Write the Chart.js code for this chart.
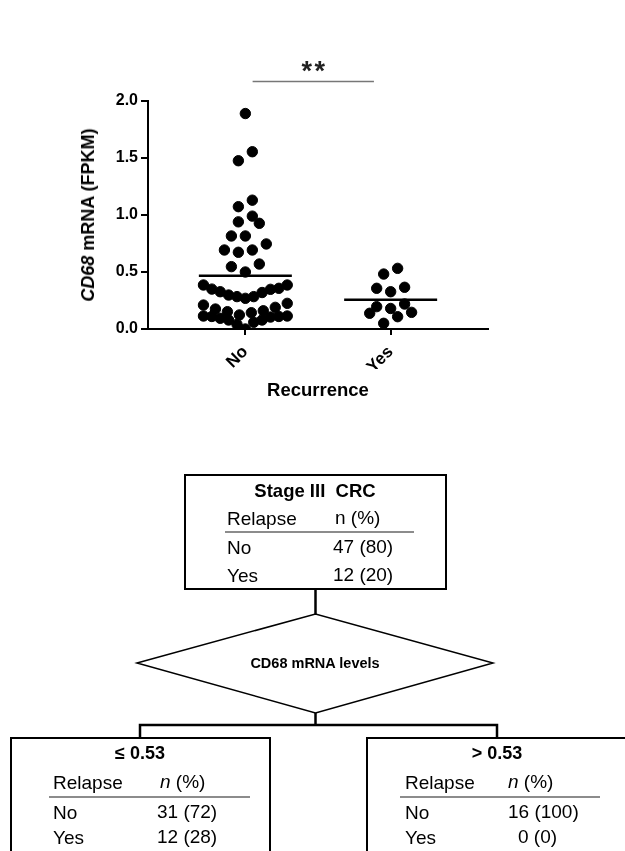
<!DOCTYPE html>
<html>
<head>
<meta charset="utf-8">
<script src="https://cdn.jsdelivr.net/npm/chart.js@4"></script>
<style>
  body { margin: 0; background: #fff; width: 625px; height: 851px; overflow: hidden; position: relative; font-family: "Liberation Sans", Arial, sans-serif; color: #000; }
  #wrap { position: absolute; left: 0; top: 0; width: 625px; height: 420px; }
  .t { position: absolute; line-height: 1; white-space: pre; }
  .c { transform: translate(-50%, -50%); }
  .l { transform: translate(0, -50%); }
  .b { font-weight: bold; }
  .row { font-size: 19px; }
  svg { position: absolute; left: 0; top: 0; }
</style>
</head>
<body>
<div id="wrap"><canvas id="chart" width="625" height="420"></canvas></div>

<div class="t c b" style="left:88px;top:215px;font-size:18px;transform:translate(-50%,-50%) rotate(-90deg);"><i>CD68</i> mRNA (FPKM)</div>
<div class="t c b" style="left:318px;top:390px;font-size:18.5px;">Recurrence</div>

<svg width="625" height="851">
  <g fill="none" stroke="#000">
    <rect x="185" y="475" width="261" height="114" stroke-width="2"/>
    <line x1="315.5" y1="589" x2="315.5" y2="614" stroke-width="2.5"/>
    <polygon points="137,663 315.5,614 493,663 315.5,713" stroke-width="1.5"/>
    <line x1="315.5" y1="713" x2="315.5" y2="725" stroke-width="2.5"/>
    <polyline points="140,739 140,725 497,725 497,739" stroke-width="2.5"/>
    <rect x="11" y="738" width="259" height="140" stroke-width="2"/>
    <rect x="367" y="738" width="300" height="140" stroke-width="2"/>
  </g>
  <g stroke="#666" stroke-width="1.5">
    <line x1="225" y1="532" x2="414" y2="532"/>
    <line x1="49" y1="797" x2="250" y2="797"/>
    <line x1="400" y1="797" x2="600" y2="797"/>
  </g>
</svg>

<div class="t c b" style="left:315px;top:491px;font-size:18.5px;">Stage III  CRC</div>
<div class="t l row" style="left:227px;top:518px;">Relapse</div>
<div class="t l row" style="left:335px;top:517px;">n (%)</div>
<div class="t l row" style="left:227px;top:547px;">No</div>
<div class="t l row" style="left:333px;top:546px;">47 (80)</div>
<div class="t l row" style="left:227px;top:575px;">Yes</div>
<div class="t l row" style="left:333px;top:574px;">12 (20)</div>

<div class="t c b" style="left:315px;top:663px;font-size:14.5px;">CD68 mRNA levels</div>

<div class="t c b" style="left:140px;top:753px;font-size:18px;">≤ 0.53</div>
<div class="t l row" style="left:53px;top:782px;">Relapse</div>
<div class="t l row" style="left:160px;top:781px;"><i>n</i> (%)</div>
<div class="t l row" style="left:53px;top:812px;">No</div>
<div class="t l row" style="left:157px;top:811px;">31 (72)</div>
<div class="t l row" style="left:53px;top:837px;">Yes</div>
<div class="t l row" style="left:157px;top:836px;">12 (28)</div>

<div class="t c b" style="left:497px;top:753px;font-size:18px;">&gt; 0.53</div>
<div class="t l row" style="left:405px;top:782px;">Relapse</div>
<div class="t l row" style="left:508px;top:781px;"><i>n</i> (%)</div>
<div class="t l row" style="left:405px;top:812px;">No</div>
<div class="t l row" style="left:508px;top:811px;">16 (100)</div>
<div class="t l row" style="left:405px;top:837px;">Yes</div>
<div class="t l row" style="left:518px;top:836px;">0 (0)</div>

<script>
var categories = ['No', 'Yes'];

// CD68 FPKM per patient
var noValues = [1.89, 1.555, 1.476, 1.13, 1.073, 0.99, 0.94, 0.927, 0.816, 0.816,
  0.693, 0.673, 0.693, 0.746, 0.547, 0.57, 0.5,
  0.386, 0.357, 0.348, 0.32, 0.284, 0.269, 0.284, 0.298, 0.327, 0.35, 0.386,
  0.225, 0.19, 0.16, 0.143, 0.123, 0.152, 0.175, 0.21,
  0.114, 0.11, 0.105, 0.079, 0.059, 0.0, 0.041, 0.079, 0.094, 0.11, 0.114];
var yesValues = [0.532, 0.482, 0.366, 0.357, 0.327, 0.196, 0.18, 0.219, 0.138, 0.146, 0.108, 0.05];

var meanValues = [0.467, 0.257];
var yTicks = [0, 0.5, 1, 1.5, 2];
var sigText = '**';

// graphpad-like column scatter: bin into rows, spread each row around the centre
function columnScatter(values, center) {
  var pxPerX = 145.7, rowH = 0.12, maxSpan = 84, step = 14;
  var sorted = values.slice().sort(function (a, b) { return a - b; });
  var rows = [], cur = null;
  sorted.forEach(function (v) {
    if (!cur || v - cur.start >= rowH) { cur = { start: v, vals: [] }; rows.push(cur); }
    cur.vals.push(v);
  });
  var pts = [];
  rows.forEach(function (r) {
    var n = r.vals.length;
    var s = n > 1 ? Math.min(step, maxSpan / (n - 1)) : 0;
    r.vals.forEach(function (v, i) {
      var off;
      if (n % 2 === 1) {
        var k = Math.ceil(i / 2);
        off = (i % 2 === 1 ? -1 : 1) * k * s;
      } else {
        var k2 = Math.floor(i / 2) + 0.5;
        off = (i % 2 === 0 ? -1 : 1) * k2 * s;
      }
      pts.push({ x: center + off / pxPerX, y: v });
    });
  });
  return pts;
}

function meanLine(i) {
  var c = i + 1;
  return [{ x: c - 0.32, y: meanValues[i] }, { x: c + 0.32, y: meanValues[i] }];
}

var sigPlugin = {
  id: 'sig',
  afterDraw: function (chart) {
    var xs = chart.scales.x, ys = chart.scales.y, ctx = chart.ctx;
    var x1 = xs.getPixelForValue(1.05), x2 = xs.getPixelForValue(1.885);
    var y = ys.getPixelForValue(2.17);
    ctx.save();
    ctx.strokeStyle = '#777';
    ctx.lineWidth = 1.5;
    ctx.beginPath();
    ctx.moveTo(x1, y);
    ctx.lineTo(x2, y);
    ctx.stroke();
    ctx.fillStyle = '#222';
    ctx.font = 'bold 27px "Liberation Sans", Arial, sans-serif';
    ctx.textAlign = 'center';
    ctx.textBaseline = 'alphabetic';
    var mid = (x1 + x2) / 2, gap = 13;
    sigText.split('').forEach(function (ch, i, arr) {
      ctx.fillText(ch, mid + (i - (arr.length - 1) / 2) * gap, y - 2);
    });
    ctx.restore();
  }
};

var chart = new Chart('chart', {
  type: 'scatter',
  data: {
    datasets: [
      { label: 'No', data: columnScatter(noValues, 1), backgroundColor: '#000', borderColor: '#000', pointRadius: 5.2, pointHoverRadius: 5.2 },
      { label: 'Yes', data: columnScatter(yesValues, 2), backgroundColor: '#000', borderColor: '#000', pointRadius: 5.2, pointHoverRadius: 5.2 },
      { label: 'mean No', type: 'line', data: meanLine(0), borderColor: '#000', borderWidth: 2.5, pointRadius: 0 },
      { label: 'mean Yes', type: 'line', data: meanLine(1), borderColor: '#000', borderWidth: 2.5, pointRadius: 0 }
    ]
  },
  options: {
    responsive: false,
    animation: false,
    layout: { padding: { left: 0, top: 101, right: 137, bottom: 51 } },
    plugins: { legend: { display: false }, tooltip: { enabled: false } },
    scales: {
      x: {
        type: 'linear',
        min: 0.33,
        max: 2.67,
        afterBuildTicks: function (s) { s.ticks = [{ value: 1 }, { value: 2 }]; },
        afterFit: function (s) { s.height = 40; },
        grid: { drawOnChartArea: false, color: '#000', lineWidth: 2, tickLength: 6 },
        border: { color: '#000', width: 2 },
        ticks: {
          minRotation: 45, maxRotation: 45, padding: 7, color: '#000',
          font: { family: '"Liberation Sans", Arial, sans-serif', size: 17, weight: 'bold' },
          callback: function (v) { return categories[v - 1]; }
        }
      },
      y: {
        min: 0,
        max: 2,
        afterBuildTicks: function (s) { s.ticks = yTicks.map(function (v) { return { value: v }; }); },
        afterFit: function (s) { s.width = 148; },
        grid: { drawOnChartArea: false, color: '#000', lineWidth: 2, tickLength: 7 },
        border: { color: '#000', width: 2 },
        ticks: {
          padding: 3, color: '#000',
          font: { family: '"Liberation Sans", Arial, sans-serif', size: 16, weight: 'bold' },
          callback: function (v) { return v.toFixed(1); }
        }
      }
    }
  },
  plugins: [sigPlugin]
});
</script>
</body>
</html>
